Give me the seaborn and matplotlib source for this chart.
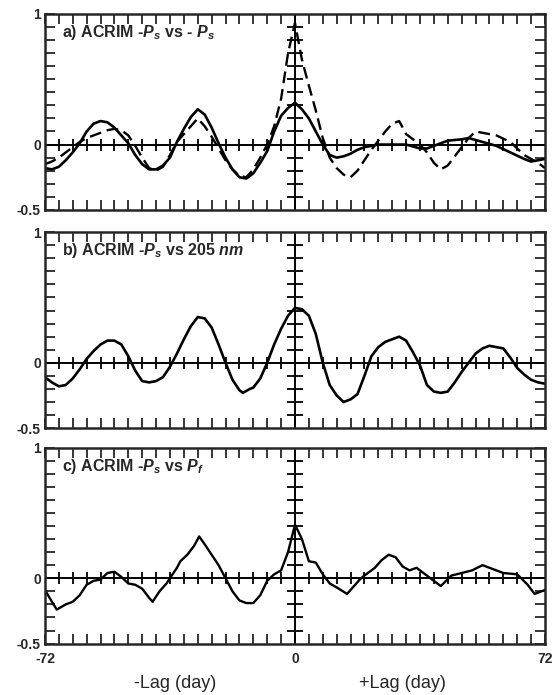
import numpy as np
import matplotlib
matplotlib.use("Agg")
import matplotlib.pyplot as plt
import seaborn as sns

# ==========================================
# DATA
# ==========================================
# a) ACRIM -Ps vs -Ps : solid and dashed curves
lag_a_solid = [-72, -70, -68, -66, -64, -62, -60, -58, -56, -54, -52, -50, -48, -46, -44,
               -42, -40, -38, -36, -34, -32, -30, -28, -26, -24, -22, -20, -18, -16, -14,
               -12, -10, -8, -6, -4, -2, 0, 2, 4, 6, 8, 10, 12, 14, 16, 18, 20, 24, 28,
               32, 36, 38, 40, 44, 48, 50, 54, 58, 62, 66, 68, 70, 72]
val_a_solid = [-0.18, -0.19, -0.17, -0.12, -0.06, 0.01, 0.10, 0.16, 0.18, 0.17, 0.13, 0.07,
               0.01, -0.08, -0.15, -0.19, -0.19, -0.16, -0.10, 0.02, 0.12, 0.21, 0.27, 0.23,
               0.13, 0.01, -0.10, -0.19, -0.25, -0.26, -0.22, -0.14, -0.05, 0.10, 0.22, 0.28,
               0.32, 0.27, 0.20, 0.10, 0.00, -0.08, -0.10, -0.09, -0.07, -0.04, -0.02, 0.00,
               0.00, 0.00, -0.03, -0.03, -0.01, 0.03, 0.04, 0.05, 0.02, -0.01, -0.06, -0.11,
               -0.13, -0.12, -0.11]

lag_a_dash = [-72, -70, -68, -66, -64, -62, -60, -58, -56, -54, -52, -50, -48, -46, -44,
              -42, -40, -38, -36, -34, -32, -30, -28, -26, -24, -22, -20, -18, -16, -14,
              -12, -10, -8, -6, -4, -2, 0, 2, 4, 6, 8, 10, 12, 14, 16, 18, 20, 22, 24, 26,
              28, 30, 32, 34, 36, 38, 40, 42, 44, 46, 48, 50, 52, 54, 56, 58, 62, 66, 68,
              70, 72]
val_a_dash = [-0.15, -0.13, -0.10, -0.06, -0.02, 0.02, 0.05, 0.07, 0.09, 0.11, 0.12, 0.11,
              0.07, -0.01, -0.10, -0.18, -0.20, -0.17, -0.08, 0.02, 0.08, 0.14, 0.20, 0.14,
              0.06, -0.03, -0.12, -0.19, -0.24, -0.25, -0.19, -0.10, 0.00, 0.14, 0.35, 0.70,
              0.93, 0.65, 0.45, 0.26, 0.05, -0.10, -0.18, -0.23, -0.25, -0.20, -0.12, -0.04,
              0.03, 0.10, 0.16, 0.18, 0.08, 0.04, 0.00, -0.06, -0.14, -0.19, -0.16, -0.09,
              -0.02, 0.05, 0.10, 0.09, 0.08, 0.07, 0.02, -0.08, -0.11, -0.14, -0.18]

# b) ACRIM -Ps vs 205 nm
lag_b = [-72, -70, -68, -66, -64, -62, -60, -58, -56, -54, -52, -50, -48, -46, -44, -42,
         -40, -38, -36, -34, -32, -30, -28, -26, -24, -22, -20, -18, -16, -15, -13, -12,
         -10, -8, -6, -4, -2, 0, 2, 4, 6, 8, 10, 12, 14, 16, 18, 20, 22, 24, 26, 28, 30,
         32, 34, 36, 38, 40, 42, 44, 46, 48, 50, 52, 54, 56, 58, 60, 62, 64, 66, 68, 70,
         72]
val_b = [-0.11, -0.15, -0.18, -0.17, -0.12, -0.05, 0.03, 0.09, 0.14, 0.17, 0.17, 0.14,
         0.05, -0.06, -0.14, -0.15, -0.14, -0.11, -0.03, 0.07, 0.18, 0.28, 0.35, 0.34,
         0.27, 0.14, 0.00, -0.13, -0.21, -0.23, -0.20, -0.19, -0.12, 0.00, 0.14, 0.26,
         0.36, 0.42, 0.41, 0.36, 0.22, 0.00, -0.17, -0.25, -0.30, -0.28, -0.24, -0.10,
         0.05, 0.12, 0.16, 0.18, 0.20, 0.17, 0.08, -0.02, -0.17, -0.22, -0.23, -0.22,
         -0.15, -0.07, 0.00, 0.07, 0.11, 0.13, 0.12, 0.11, 0.04, -0.04, -0.09, -0.13,
         -0.15, -0.16]

# c) ACRIM -Ps vs Pf
lag_c = [-72, -70, -68.6, -66, -64, -62, -60, -58, -56, -54, -52, -50, -48, -46, -44, -42,
         -41, -39, -37, -36, -34, -33, -31, -29, -27.6, -26, -24, -22, -20, -18, -16, -14,
         -12, -10, -8, -6, -4, -2, 0, 2, 4, 6, 8, 10, 12, 15, 17, 19, 21, 23, 25, 27, 29,
         31, 33, 35, 37, 39, 42, 45, 48, 51, 54, 57, 60, 64, 67, 69, 72]
val_c = [-0.09, -0.18, -0.24, -0.20, -0.18, -0.13, -0.05, -0.02, -0.01, 0.04, 0.05, 0.01,
         -0.04, -0.05, -0.08, -0.15, -0.18, -0.10, -0.04, 0.00, 0.08, 0.13, 0.18, 0.25,
         0.32, 0.26, 0.18, 0.10, 0.00, -0.10, -0.17, -0.19, -0.19, -0.13, -0.02, 0.03,
         0.06, 0.20, 0.41, 0.30, 0.13, 0.12, 0.03, -0.04, -0.07, -0.12, -0.06, 0.00, 0.04,
         0.08, 0.14, 0.18, 0.16, 0.09, 0.06, 0.08, 0.04, 0.00, -0.06, 0.02, 0.04, 0.06,
         0.10, 0.07, 0.04, 0.03, -0.05, -0.12, -0.09]

panel_titles = ["a) ACRIM -$P_s$ vs - $P_s$",
                "b) ACRIM -$P_s$ vs 205 $nm$",
                "c) ACRIM -$P_s$ vs $P_f$"]
x_labels = ["-Lag (day)", "+Lag (day)"]

# ==========================================
# STYLE
# ==========================================
sns.set_style("ticks")
plt.rcParams['font.family'] = ['Liberation Sans', 'DejaVu Sans']
plt.rcParams['mathtext.fontset'] = 'custom'
plt.rcParams['mathtext.rm'] = 'Liberation Sans:bold'
plt.rcParams['mathtext.it'] = 'Liberation Sans:bold:italic'

fig = plt.figure(figsize=(5.55, 6.95), dpi=100)
bottoms = [0.698, 0.384, 0.074]
axes = [fig.add_axes([0.081, b, 0.901, 0.282]) for b in bottoms]

xt = np.arange(-72, 73, 4)
yt = np.round(np.arange(-0.5, 1.001, 0.1), 1)
ylab = {1.0: "1", 0.0: "0", -0.5: "-0.5"}
xlab = {-72: "-72", 0: "0", 72: "72"}

for i, ax in enumerate(axes):
    if i == 0:
        sns.lineplot(x=lag_a_solid, y=val_a_solid, ax=ax, color='black', lw=1.9)
        sns.lineplot(x=lag_a_dash, y=val_a_dash, ax=ax, color='black', lw=1.7,
                     dashes=False, linestyle=(0, (5, 2.5)))
    elif i == 1:
        sns.lineplot(x=lag_b, y=val_b, ax=ax, color='black', lw=1.9)
    else:
        sns.lineplot(x=lag_c, y=val_c, ax=ax, color='black', lw=1.7)

    # zero lines with crossing tick marks
    ax.axhline(0, color='black', lw=1.4)
    ax.axvline(0, color='black', lw=1.4)
    ax.plot(xt[1:-1], np.zeros(len(xt) - 2), ls='none', marker='|', ms=9, mew=1.3, color='black')
    ax.plot(np.zeros(len(yt) - 2), yt[1:-1], ls='none', marker='_', ms=12, mew=1.3, color='black')

    ax.set_xlim(-72, 72)
    ax.set_ylim(-0.5, 1.0)
    ax.set_xticks(xt)
    ax.set_yticks(yt)
    ax.set_yticklabels([ylab.get(v, "") for v in yt], fontsize=10, fontweight='bold')
    if i == 2:
        ax.set_xticklabels([xlab.get(v, "") for v in xt], fontsize=10, fontweight='bold')
    else:
        ax.set_xticklabels([])
    ax.tick_params(direction='in', length=7, width=1.3, top=True, right=True, pad=3)
    ax.tick_params(axis='x', pad=6)
    for s in ax.spines.values():
        s.set_linewidth(1.8)
    ax.set_xlabel("")
    ax.set_ylabel("")
    ax.text(0.035, 0.905, panel_titles[i], transform=ax.transAxes, fontsize=11.5,
            fontweight='bold', va='center', ha='left')

fig.text(0.315, 0.016, x_labels[0], ha='center', va='center', fontsize=13)
fig.text(0.726, 0.016, x_labels[1], ha='center', va='center', fontsize=13)

fig.savefig("out.png", dpi=100)
